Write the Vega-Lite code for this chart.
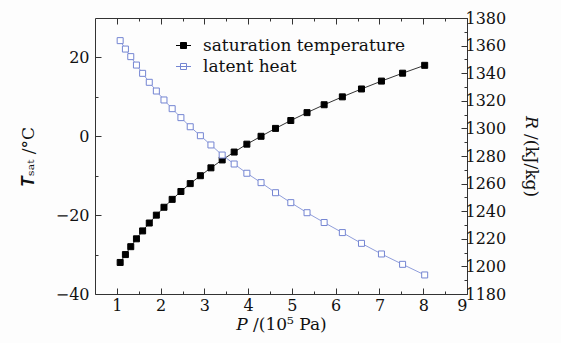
{
  "$schema": "https://vega.github.io/schema/vega-lite/v6.json",
  "width": 372,
  "height": 276,
  "autosize": {"type": "none"},
  "padding": {"left": 95, "top": 18, "right": 94, "bottom": 49},
  "background": "#fdfdfd",
  "config": {
    "font": "DejaVu Serif",
    "view": {"stroke": "#333333", "strokeWidth": 1},
    "axis": {
      "domain": false,
      "grid": false,
      "tickColor": "#333333",
      "labelFont": "DejaVu Serif",
      "labelFontSize": 16,
      "labelColor": "#111111",
      "titleFont": "DejaVu Serif",
      "titleFontSize": 17,
      "titleFontWeight": "normal",
      "titleColor": "#111111"
    },
    "legend": {
      "orient": "none",
      "legendX": 80,
      "legendY": 19,
      "padding": 0,
      "symbolType": "M-1,0H1M-0.4,-0.4H0.4V0.4H-0.4Z",
      "symbolSize": 225,
      "symbolStrokeWidth": 1,
      "labelFont": "DejaVu Serif",
      "labelFontSize": 17,
      "labelColor": "#111111",
      "labelOffset": 11,
      "labelLimit": 0,
      "rowPadding": 3,
      "title": null
    }
  },
  "datasets": {
    "ammonia": [
      {"P": 1.075, "T": -32, "R": 1363.6},
      {"P": 1.195, "T": -30, "R": 1357.5},
      {"P": 1.317, "T": -28, "R": 1352.0},
      {"P": 1.447, "T": -26, "R": 1345.9},
      {"P": 1.588, "T": -24, "R": 1339.9},
      {"P": 1.740, "T": -22, "R": 1333.4},
      {"P": 1.902, "T": -20, "R": 1327.1},
      {"P": 2.076, "T": -18, "R": 1320.6},
      {"P": 2.263, "T": -16, "R": 1314.3},
      {"P": 2.463, "T": -14, "R": 1307.8},
      {"P": 2.676, "T": -12, "R": 1301.2},
      {"P": 2.908, "T": -10, "R": 1294.7},
      {"P": 3.149, "T": -8, "R": 1288.0},
      {"P": 3.406, "T": -6, "R": 1280.7},
      {"P": 3.680, "T": -4, "R": 1274.2},
      {"P": 3.970, "T": -2, "R": 1267.5},
      {"P": 4.294, "T": 0, "R": 1260.7},
      {"P": 4.625, "T": 2, "R": 1253.4},
      {"P": 4.974, "T": 4, "R": 1246.2},
      {"P": 5.345, "T": 6, "R": 1238.9},
      {"P": 5.736, "T": 8, "R": 1231.8},
      {"P": 6.152, "T": 10, "R": 1224.5},
      {"P": 6.589, "T": 12, "R": 1216.7},
      {"P": 7.045, "T": 14, "R": 1209.0},
      {"P": 7.528, "T": 16, "R": 1201.5},
      {"P": 8.033, "T": 18, "R": 1193.8}
    ]
  },
  "data": {"name": "ammonia"},
  "layer": [
    {
      "encoding": {
        "x": {
          "field": "P",
          "type": "quantitative",
          "scale": {"domain": [0.5, 9], "nice": false, "zero": false},
          "axis": {
            "orient": "bottom",
            "title": "𝑃 /(10⁵ Pa)",
            "values": [1, 1.5, 2, 2.5, 3, 3.5, 4, 4.5, 5, 5.5, 6, 6.5, 7, 7.5, 8, 8.5, 9],
            "format": "~g",
            "labelExpr": "datum.value % 1 === 0 ? datum.label : ''",
            "tickSize": {"condition": {"test": "datum.value % 1 === 0", "value": -6}, "value": -3},
            "labelPadding": 9,
            "titlePadding": 3
          }
        },
        "y": {
          "field": "T",
          "type": "quantitative",
          "scale": {"domain": [-40, 30], "nice": false, "zero": false},
          "axis": {
            "orient": "left",
            "title": "𝑻ₛₐₜ /°C",
            "values": [-40, -30, -20, -10, 0, 10, 20],
            "labelExpr": "datum.value % 20 === 0 ? datum.label : ''",
            "tickSize": {"condition": {"test": "datum.value % 20 === 0", "value": -6}, "value": -3},
            "labelPadding": 12,
            "titlePadding": 18
          }
        }
      },
      "layer": [
        {
          "mark": {"type": "line", "strokeWidth": 0.8},
          "encoding": {"stroke": {"datum": "saturation temperature", "type": "nominal", "scale": {"domain": ["saturation temperature", "latent heat"], "range": ["#000000", "#7485d2"]}}}
        },
        {
          "mark": {"type": "point", "shape": "square", "size": 36, "strokeWidth": 1, "opacity": 1},
          "encoding": {
            "fill": {"datum": "saturation temperature", "type": "nominal", "scale": {"domain": ["saturation temperature", "latent heat"], "range": ["#000000", "#ffffff"]}},
            "stroke": {"datum": "saturation temperature", "type": "nominal"}
          }
        }
      ]
    },
    {
      "encoding": {
        "x": {
          "field": "P",
          "type": "quantitative",
          "axis": {
            "orient": "top",
            "title": null,
            "values": [1, 1.5, 2, 2.5, 3, 3.5, 4, 4.5, 5, 5.5, 6, 6.5, 7, 7.5, 8, 8.5, 9],
            "labels": false,
            "tickSize": {"condition": {"test": "datum.value % 1 === 0", "value": -6}, "value": -3}
          }
        },
        "y": {
          "field": "R",
          "type": "quantitative",
          "scale": {"domain": [1180, 1380], "nice": false, "zero": false},
          "axis": {
            "orient": "right",
            "title": "𝑅 /(kJ/kg)",
            "values": [1180, 1190, 1200, 1210, 1220, 1230, 1240, 1250, 1260, 1270, 1280, 1290, 1300, 1310, 1320, 1330, 1340, 1350, 1360, 1370, 1380],
            "labelExpr": "datum.value % 20 === 0 ? datum.label : ''",
            "tickSize": {"condition": {"test": "datum.value % 20 === 0", "value": -6}, "value": -3},
            "labelPadding": 4,
            "titlePadding": 16,
            "format": "d"
          }
        }
      },
      "layer": [
        {
          "mark": {"type": "line", "strokeWidth": 0.8},
          "encoding": {"stroke": {"datum": "latent heat", "type": "nominal"}}
        },
        {
          "mark": {"type": "point", "shape": "square", "size": 36, "strokeWidth": 1, "opacity": 1},
          "encoding": {
            "fill": {"datum": "latent heat", "type": "nominal"},
            "stroke": {"datum": "latent heat", "type": "nominal"}
          }
        }
      ]
    }
  ],
  "resolve": {"scale": {"y": "independent"}, "axis": {"x": "independent", "y": "independent"}}
}
